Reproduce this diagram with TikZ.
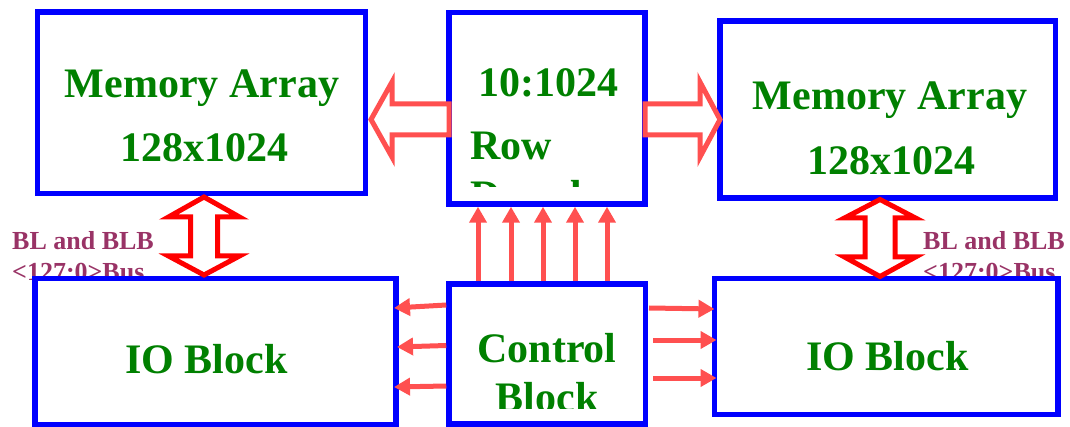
\documentclass[tikz,border=0pt]{standalone}
\usepackage{fontspec}
\setmainfont{Liberation Serif}
\usetikzlibrary{arrows.meta,calc}
\definecolor{boxblue}{HTML}{0000FF}
\definecolor{txtgreen}{HTML}{008000}
\definecolor{salmon}{HTML}{FF5050}
\definecolor{busred}{HTML}{FF0000}
\definecolor{labpurple}{HTML}{993366}
\tikzset{
  blockbox/.style={draw=boxblue, fill=white, line width=5.5pt, rectangle, inner sep=0pt, outer sep=0pt, anchor=north west},
  bigtxt/.style={text=txtgreen, font=\fontsize{42}{50}\selectfont\bfseries, inner sep=0pt, anchor=base},
  bustxt/.style={text=labpurple, font=\fontsize{26}{30}\selectfont\bfseries, inner sep=0pt, anchor=base west},
  hollowarrow/.style={draw=salmon, fill=white, line width=5pt, line join=miter},
  busarrow/.style={draw=busred, fill=white, line width=5pt, line join=miter},
  ctlarrow/.style={draw=salmon, line width=5pt, -{Triangle[length=16pt,width=17pt]}}
}
\begin{document}
\begin{tikzpicture}[x=1pt,y=-1pt]
\useasboundingbox (0,0) rectangle (1070,427);
% bus labels (partly hidden by the IO blocks)
\node[bustxt] (labL1) at (12,250) {BL and BLB};
\node[bustxt] (labL2) at (12,281) {<127:0>Bus};
\node[bustxt] (labR1) at (923,250) {BL and BLB};
\node[bustxt] (labR2) at (923,281) {<127:0>Bus};
% blocks
\node[blockbox, minimum width=328pt, minimum height=181.5pt] (memL) at (37.5,12) {};
\node[blockbox, minimum width=196pt, minimum height=191.5pt] (dec) at (449,12.5) {};
\node[blockbox, minimum width=335.5pt, minimum height=177pt] (memR) at (720,21) {};
\node[blockbox, minimum width=361pt, minimum height=146.5pt] (ioL) at (35,278.5) {};
\node[blockbox, minimum width=196.5pt, minimum height=140pt] (ctrl) at (449,284) {};
\node[blockbox, minimum width=343.5pt, minimum height=136pt] (ioR) at (714.5,278.5) {};
% texts
\node[bigtxt] (tML1) at (202,98) {Memory Array};
\node[bigtxt] (tML2) at (204.5,162) {128x1024};
\node[bigtxt] (tMR1) at (890,110) {Memory Array};
\node[bigtxt] (tMR2) at (891,175) {128x1024};
\node[bigtxt] (tIOL) at (206.5,373) {IO Block};
\node[bigtxt] (tIOR) at (887.5,370) {IO Block};
\begin{scope}
  \clip (452,15) rectangle (642,187);
  \node[bigtxt, anchor=base west] (tD1) at (478,97) {10:1024};
  \node[bigtxt, anchor=base west] (tD2) at (470,160) {Row};
  \node[bigtxt, anchor=base west] (tD3) at (470,210) {Decoder};
\end{scope}
\begin{scope}
  \clip (452,287) rectangle (642,408);
  \node[bigtxt] (tC1) at (547,362) {Control};
  \node[bigtxt] (tC2) at (547,411) {Block};
\end{scope}
% hollow arrows from the row decoder
\draw[hollowarrow] (dec.west) ++(0,-4.25) -- ++(-57,0) -- ++(0,-22) -- ++(-21,37.5)
  -- ++(21,37.5) -- ++(0,-22) -- ++(57,0) -- cycle;
\draw[hollowarrow] (dec.east) ++(0,-4.25) -- ++(55,0) -- ++(0,-22) -- ++(20,37.5)
  -- ++(-20,37.5) -- ++(0,-22) -- ++(-55,0) -- cycle;
% bus double arrows
\draw[busarrow] (memL.south) ++(2.5,3.5) -- ++(35.5,20) -- ++(-22,0) -- ++(0,39)
  -- ++(22,0) -- ++(-35.5,19) -- ++(-35.5,-19) -- ++(22,0) -- ++(0,-39) -- ++(-22,0) -- cycle;
\draw[busarrow] (memR.south) ++(-7.75,1.5) -- ++(35.5,18.5) -- ++(-20.5,0) -- ++(0,39)
  -- ++(20.5,0) -- ++(-35.5,19.5) -- ++(-35.5,-19.5) -- ++(20.5,0) -- ++(0,-39) -- ++(-20.5,0) -- cycle;
% control to row decoder
\foreach \dx in {-69.25,-36.25,-4.25,27.75,59.75}
  \draw[ctlarrow] ($(ctrl.north)+(\dx,-2.75)$) -- ($(ctrl.north |- dec.south)+(\dx,2.75)$);
% control to left IO
\draw[ctlarrow] ($(ctrl.west)+(-2.75,-49)$) -- ($(ioL.east)+(-2,-43.75)$);
\draw[ctlarrow] ($(ctrl.west)+(-2.75,-8.5)$) -- ($(ioL.east)+(1,-4.75)$);
\draw[ctlarrow] ($(ctrl.west)+(-2.75,32)$) -- ($(ioL.east)+(-2,35.25)$);
% control to right IO
\draw[ctlarrow] ($(ctrl.east)+(3.5,-46)$) -- ($(ioR.west)+(0,-37.5)$);
\draw[ctlarrow] ($(ctrl.east)+(7.5,-14)$) -- ($(ioR.west)+(2,-6.5)$);
\draw[ctlarrow] ($(ctrl.east)+(7.5,24)$) -- ($(ioR.west)+(2,31.5)$);
\end{tikzpicture}
\end{document}
